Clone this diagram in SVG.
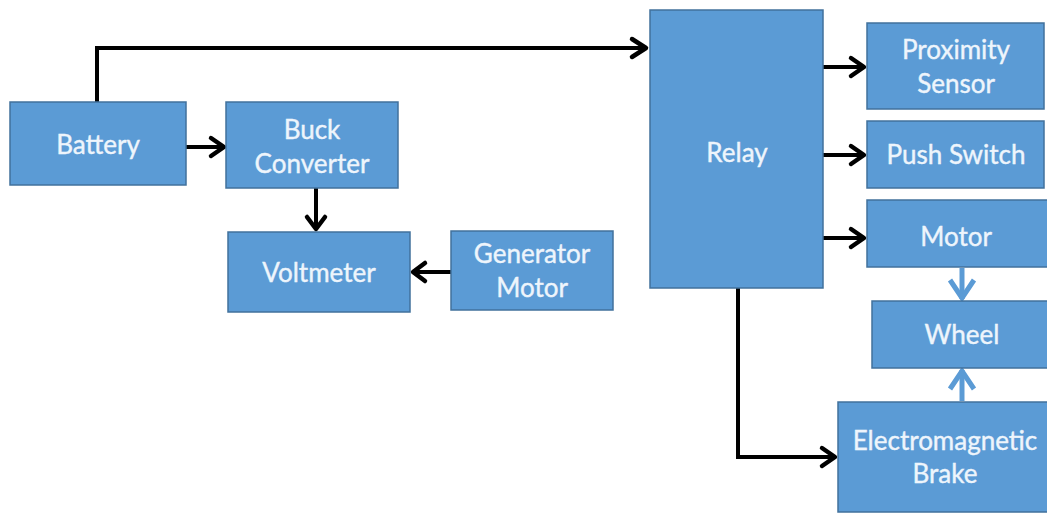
<svg xmlns="http://www.w3.org/2000/svg" width="1047" height="513" viewBox="0 0 1047 513">
<style>
.box{fill:#5B9BD5;stroke:#41719C;stroke-width:1.5}
.t{font-family:Lato,"Noto Sans",sans-serif;font-size:26px;fill:#EEF5FC;stroke:#EEF5FC;stroke-width:0.4;text-anchor:middle}
.c{fill:none;stroke:#000;stroke-width:4}
.h{fill:none;stroke:#000;stroke-width:4.5;stroke-linecap:round;stroke-linejoin:round}
.b{fill:none;stroke:#5B9BD5;stroke-width:5}
</style>
<rect width="1047" height="513" fill="#fff"/>
<g id="connectors">
<polyline class="c" points="97,102 97,48 646,48"/>
<polyline class="h" points="632,39 646,48 632,57"/>
<line class="c" x1="186" y1="147" x2="224" y2="147"/>
<polyline class="h" points="211,138 224,147 211,156"/>
<line class="c" x1="316" y1="188" x2="316" y2="229"/>
<polyline class="h" points="307,217 316,229 325,217"/>
<line class="c" x1="451" y1="272" x2="413" y2="272"/>
<polyline class="h" points="425,263 413,272 425,281"/>
<line class="c" x1="823" y1="67" x2="864" y2="67"/>
<polyline class="h" points="851,58 864,67 851,76"/>
<line class="c" x1="823" y1="155" x2="864" y2="155"/>
<polyline class="h" points="851,146 864,155 851,164"/>
<line class="c" x1="823" y1="238" x2="864" y2="238"/>
<polyline class="h" points="851,229 864,238 851,247"/>
<polyline class="c" points="738,288 738,457 835,457"/>
<polyline class="h" points="822,448 835,457 822,466"/>
<line class="b" x1="962" y1="268" x2="962" y2="299"/>
<polyline class="b" points="950,280 962,298 974,280"/>
<line class="b" x1="962" y1="401" x2="962" y2="370"/>
<polyline class="b" points="950,389 962,371 974,389"/>
</g>
<g id="battery"><rect class="box" x="10" y="102" width="176" height="83"/><text class="t" x="98" y="154">Battery</text></g>
<g id="buck"><rect class="box" x="226" y="102" width="172" height="86"/><text class="t" x="312" y="139">Buck</text><text class="t" x="312" y="173">Converter</text></g>
<g id="voltmeter"><rect class="box" x="228" y="232" width="182" height="80"/><text class="t" x="319" y="282">Voltmeter</text></g>
<g id="generator"><rect class="box" x="451" y="231" width="162" height="79"/><text class="t" x="532" y="263">Generator</text><text class="t" x="532" y="297">Motor</text></g>
<g id="relay"><rect class="box" x="650" y="10" width="173" height="278"/><text class="t" x="737" y="162">Relay</text></g>
<g id="proximity"><rect class="box" x="867" y="23" width="177" height="86"/><text class="t" x="956" y="59">Proximity</text><text class="t" x="956" y="93">Sensor</text></g>
<g id="push"><rect class="box" x="867" y="121" width="177" height="67"/><text class="t" x="956" y="164">Push Switch</text></g>
<g id="motor"><rect class="box" x="867" y="200" width="182" height="67"/><text class="t" x="956" y="246">Motor</text></g>
<g id="wheel"><rect class="box" x="872" y="301" width="177" height="67"/><text class="t" x="962" y="344">Wheel</text></g>
<g id="brake"><rect class="box" x="838" y="402" width="211" height="110"/><text class="t" x="945" y="450">Electromagnetic</text><text class="t" x="945" y="483">Brake</text></g>
</svg>
